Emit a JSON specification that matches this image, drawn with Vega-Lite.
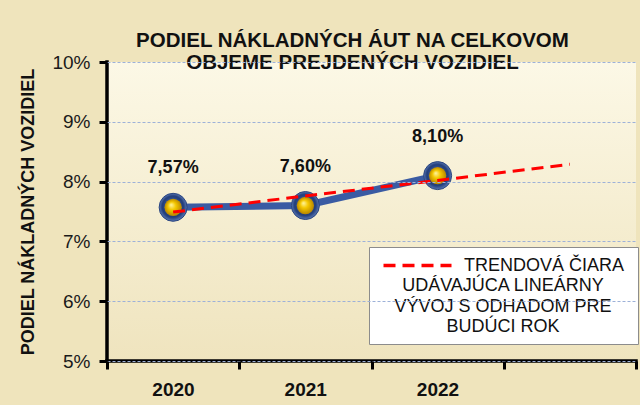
{
  "$schema": "https://vega.github.io/schema/vega-lite/v6.json",
  "width": 529,
  "height": 299,
  "autosize": {"type": "none"},
  "padding": {"left": 107, "top": 62, "right": 4, "bottom": 44},
  "background": "#EFE4BC",
  "title": {
    "text": ["PODIEL  NÁKLADNÝCH ÁUT NA CELKOVOM", "OBJEME PREJDENÝCH VOZIDIEL"],
    "fontSize": 20.5,
    "fontWeight": "bold",
    "font": "Liberation Sans",
    "color": "#111111",
    "lineHeight": 22,
    "anchor": "middle",
    "dx": -19,
    "offset": -20
  },
  "datasets": {
    "main": [
      {"year": 2020, "share": 0.0757},
      {"year": 2021, "share": 0.0760},
      {"year": 2022, "share": 0.0810}
    ],
    "trend": [
      {"year": 2020, "trend": 0.0749, "series": "TRENDOVÁ  ČIARA"},
      {"year": 2021, "trend": 0.0776, "series": "TRENDOVÁ  ČIARA"},
      {"year": 2022, "trend": 0.0802, "series": "TRENDOVÁ  ČIARA"},
      {"year": 2023, "trend": 0.0829, "series": "TRENDOVÁ  ČIARA"}
    ],
    "frame": [{"axis": "frame"}]
  },
  "layer": [
    {
      "data": {"name": "main"},
      "mark": {"type": "line", "color": "#3A5BA3", "strokeWidth": 7, "strokeCap": "round"},
      "encoding": {
        "x": {
          "field": "year",
          "type": "quantitative",
          "scale": {"domain": [2019.5, 2023.5], "nice": false, "zero": false},
          "axis": {
            "title": null,
            "values": [2019.5, 2020.5, 2021.5, 2022.5, 2023.5],
            "labelExpr": "datum.value < 2022 ? format(datum.value + 0.5, 'd') : ''",
            "labelOffset": 66,
            "labelFlush": false,
            "labelOverlap": false,
            "labelFontSize": 19,
            "labelFontWeight": "bold",
            "labelColor": "#111111",
            "labelPadding": 11,
            "grid": false,
            "domain": false,
            "ticks": true,
            "zindex": 1,
            "tickSize": 8,
            "tickWidth": 3,
            "tickColor": "#000000"
          }
        },
        "y": {
          "field": "share",
          "type": "quantitative",
          "scale": {"domain": [0.05, 0.10], "nice": false, "zero": false},
          "axis": {
            "title": "PODIEL NÁKLADNÝCH VOZIDIEL",
            "titleFontSize": 18,
            "titleFontWeight": "bold",
            "titleColor": "#111111",
            "titlePadding": 14,
            "values": [0.05, 0.06, 0.07, 0.08, 0.09, 0.10],
            "format": ".0%",
            "labelFontSize": 19,
            "labelFontWeight": "normal",
            "labelColor": "#1a1a1a",
            "labelPadding": 9,
            "domain": false,
            "ticks": true,
            "zindex": 1,
            "tickSize": 8,
            "tickWidth": 3,
            "tickColor": "#000000",
            "grid": true,
            "gridColor": "#9DB1D8",
            "gridDash": [3, 2],
            "gridWidth": 1
          }
        }
      }
    },
    {
      "data": {"name": "main"},
      "mark": {
        "type": "point",
        "shape": "circle",
        "size": 784,
        "filled": true,
        "opacity": 1,
        "fill": {
          "gradient": "radial",
          "x1": 0.45, "y1": 0.4, "r1": 0,
          "x2": 0.5, "y2": 0.5, "r2": 0.5,
          "stops": [
            {"offset": 0, "color": "#4F74BE"},
            {"offset": 0.75, "color": "#213C78"},
            {"offset": 1, "color": "#5A78B5"}
          ]
        },
        "stroke": "#2A457F",
        "strokeWidth": 1
      },
      "encoding": {
        "x": {"field": "year", "type": "quantitative"},
        "y": {"field": "share", "type": "quantitative"}
      }
    },
    {
      "data": {"name": "main"},
      "mark": {
        "type": "point",
        "shape": "circle",
        "size": 300,
        "filled": true,
        "opacity": 1,
        "fill": {
          "gradient": "radial",
          "x1": 0.38, "y1": 0.35, "r1": 0,
          "x2": 0.5, "y2": 0.5, "r2": 0.5,
          "stops": [
            {"offset": 0, "color": "#FFF7A8"},
            {"offset": 0.45, "color": "#F5C800"},
            {"offset": 1, "color": "#B88600"}
          ]
        },
        "strokeWidth": 0
      },
      "encoding": {
        "x": {"field": "year", "type": "quantitative"},
        "y": {"field": "share", "type": "quantitative"}
      }
    },
    {
      "data": {"name": "trend"},
      "mark": {"type": "line", "strokeWidth": 3, "strokeDash": [12, 7]},
      "encoding": {
        "x": {"field": "year", "type": "quantitative"},
        "y": {"field": "trend", "type": "quantitative"},
        "color": {
          "field": "series",
          "type": "nominal",
          "scale": {"range": ["#FF0000"]},
          "legend": {
            "title": ["UDÁVAJÚCA  LINEÁRNY", "VÝVOJ S ODHADOM PRE", "BUDÚCI  ROK"],
            "orient": "none",
            "legendX": 262,
            "legendY": 185,
            "titleOrient": "bottom",
            "titleAnchor": "middle",
            "titleFontSize": 18,
            "titleFontWeight": "normal",
            "titleColor": "#111111",
            "titleLineHeight": 20.5,
            "titlePadding": 2,
            "titleLimit": 400,
            "labelFontSize": 18,
            "labelColor": "#111111",
            "labelLimit": 400,
            "labelOffset": 36,
            "symbolType": "M-4,0L4,0",
            "symbolSize": 289,
            "symbolOffset": 30,
            "symbolStrokeWidth": 3.5,
            "symbolDash": [12, 7],
            "symbolStrokeColor": "#FF0000",
            "fillColor": "#FFFFFF",
            "strokeColor": "#8C8C8C",
            "padding": 8
          }
        }
      }
    },
    {
      "data": {"name": "main"},
      "mark": {"type": "text", "dy": -39, "fontSize": 18, "fontWeight": "bold", "color": "#111111"},
      "encoding": {
        "x": {"field": "year", "type": "quantitative"},
        "y": {"field": "share", "type": "quantitative"},
        "text": {"field": "share", "type": "quantitative", "format": ".2%"}
      }
    },
    {
      "data": {"name": "frame"},
      "mark": {"type": "rule", "color": "#000000", "strokeWidth": 3.5, "strokeCap": "square"},
      "encoding": {
        "x": {"datum": 2019.5, "type": "quantitative"},
        "y": {"datum": 0.05, "type": "quantitative"},
        "x2": {"datum": 2023.5}
      }
    },
    {
      "data": {"name": "frame"},
      "mark": {"type": "rule", "color": "#000000", "strokeWidth": 3.5, "strokeCap": "square"},
      "encoding": {
        "x": {"datum": 2019.5, "type": "quantitative"},
        "y": {"datum": 0.05, "type": "quantitative"},
        "y2": {"datum": 0.10}
      }
    }
  ],
  "config": {
    "font": "Liberation Sans",
    "locale": {
      "number": {"decimal": ",", "thousands": " ", "grouping": [3], "currency": ["", " €"]}
    },
    "view": {
      "stroke": null,
      "fill": {
        "gradient": "linear",
        "x1": 0, "y1": 0, "x2": 0, "y2": 1,
        "stops": [
          {"offset": 0, "color": "#FCF8E6"},
          {"offset": 1, "color": "#EFE4BE"}
        ]
      }
    }
  }
}
